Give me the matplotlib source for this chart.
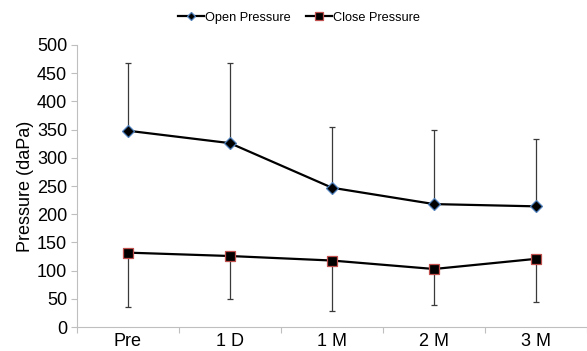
import matplotlib
import matplotlib.pyplot as plt
import numpy as np

plt.switch_backend('agg')

# data
categories = ['Pre', '1 D', '1 M', '2 M', '3 M']
open_mean = [348, 326, 247, 218, 214]
open_sd   = [120, 142, 108, 132, 119]   # upper error only
close_mean = [132, 126, 118, 103, 121]
close_sd   = [97, 76, 89, 64, 77]       # lower error only

plt.rcParams['font.family'] = ['Liberation Sans', 'DejaVu Sans']

fig = plt.figure(figsize=(5.87, 3.51), dpi=100)
ax = fig.add_axes([0.131, 0.068, 0.869, 0.804])

x = np.arange(len(categories))
zeros = np.zeros(len(categories))

ax.errorbar(x, open_mean, yerr=[zeros, open_sd], fmt='none', ecolor='#3a3a3a',
            elinewidth=0.9, capsize=2.5, capthick=0.9, zorder=2)
ax.errorbar(x, close_mean, yerr=[close_sd, zeros], fmt='none', ecolor='#3a3a3a',
            elinewidth=0.9, capsize=2.5, capthick=0.9, zorder=2)

ax.plot(x, open_mean, color='black', lw=1.6, marker='D', markersize=6.5,
        markerfacecolor='black', markeredgecolor='#4f81bd', markeredgewidth=0.9,
        label='Open Pressure', zorder=3)
ax.plot(x, close_mean, color='black', lw=1.6, marker='s', markersize=7.5,
        markerfacecolor='black', markeredgecolor='#c0504d', markeredgewidth=0.9,
        label='Close Pressure', zorder=3)

ax.set_xlim(-0.5, 4.5)
ax.set_ylim(0, 500)
ax.set_yticks(np.arange(0, 501, 50))
ax.set_xticks(x)
ax.set_xticklabels(categories)
ax.set_xticks(np.arange(-0.5, 4.6, 1), minor=True)
ax.tick_params(axis='x', which='major', length=0, labelsize=13, pad=4)
ax.tick_params(axis='x', which='minor', length=4, color='#bfbfbf', width=0.8)
ax.tick_params(axis='y', length=4, color='#bfbfbf', width=0.8, labelsize=13, pad=3)

for s in ['top', 'right']:
    ax.spines[s].set_visible(False)
for s in ['left', 'bottom']:
    ax.spines[s].set_color('#bfbfbf')
    ax.spines[s].set_linewidth(0.8)

ax.set_ylabel('Pressure (daPa)', fontsize=13, labelpad=2)

fig.legend(loc='upper center', bbox_to_anchor=(0.51, 1.0), ncol=2, frameon=False,
           fontsize=9.2, handlelength=2.0, handletextpad=0.1, columnspacing=1.2,
           markerscale=0.7)

plt.savefig('out.png', dpi=100)
